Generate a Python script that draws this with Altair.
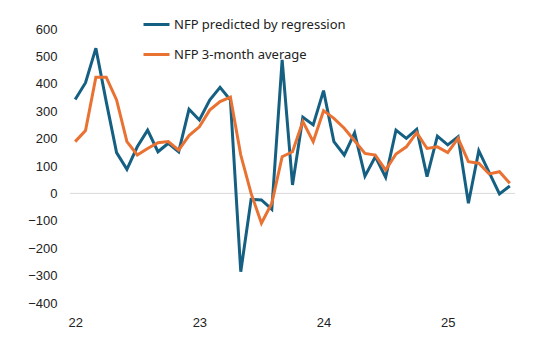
import altair as alt
import pandas as pd

year_labels = ["22", "23", "24", "25"]
series_names = ["NFP predicted by regression", "NFP 3-month average"]

predicted = [343, 404, 530, 335, 149, 88, 170, 231, 152, 183, 152, 307,
             268, 341, 387, 341, -286, -22, -24, -58, 487, 31, 278, 250,
             375, 189, 140, 221, 63, 134, 59, 231, 201, 234, 61, 209,
             177, 207, -36, 156, 77, -2, 27]
avg3 = [189, 229, 424, 424, 341, 189, 140, 164, 185, 189, 158, 211,
        243, 304, 335, 351, 140, 0, -109, -36, 134, 152, 262, 189,
        302, 274, 238, 192, 146, 140, 85, 144, 170, 222, 164, 170,
        149, 201, 116, 110, 71, 79, 37]

rows = []
for i, v in enumerate(predicted):
    rows.append({"m": i, "v": v, "s": series_names[0]})
for i, v in enumerate(avg3):
    rows.append({"m": i, "v": v, "s": series_names[1]})
df = pd.DataFrame(rows)

n = len(predicted)
xscale = alt.Scale(domain=[-0.5, n - 0.5], nice=False, zero=False)
yscale = alt.Scale(domain=[-400, 600], nice=False)

label_expr = "{'0':'22','12':'23','24':'24','36':'25'}[''+datum.value]"

yaxis = alt.Axis(values=list(range(-400, 601, 100)), title=None, domain=False,
                 ticks=False, grid=False, labelPadding=13,
                 labelFont="Liberation Sans", labelFontSize=13, labelColor="#222")

zero = alt.Chart(pd.DataFrame({"y": [0]})).mark_rule(color="#d9d9d9", strokeWidth=1).encode(
    y=alt.Y("y:Q", scale=yscale, axis=yaxis)
)

lines = alt.Chart(df).mark_line(strokeWidth=3, strokeJoin="miter").encode(
    x=alt.X("m:Q", scale=xscale,
            axis=alt.Axis(values=[0, 12, 24, 36], labelExpr=label_expr, title=None,
                          domain=False, ticks=False, grid=False, labelPadding=13,
                          labelFont="Liberation Sans", labelFontSize=13, labelColor="#222")),
    y=alt.Y("v:Q", scale=yscale, axis=yaxis),
    color=alt.Color("s:N", scale=alt.Scale(domain=series_names, range=["#156082", "#E97132"]),
                    legend=alt.Legend(title=None, orient="none", legendX=72, legendY=-19,
                                      symbolType="stroke", symbolSize=676, symbolStrokeWidth=3,
                                      rowPadding=8, labelOffset=3, labelFont="Noto Sans",
                                      labelFontSize=13, labelColor="#222", labelLimit=400)),
    order="m:Q",
)

chart = alt.layer(zero, lines).resolve_axis(y="shared").properties(
    width=445, height=274,
    autosize=alt.AutoSizeParams(type="none"),
    padding={"left": 70, "top": 29, "right": 27, "bottom": 37},
).configure_view(stroke=None)

chart.save("out.html", embed_options={"renderer": "svg", "actions": False})
